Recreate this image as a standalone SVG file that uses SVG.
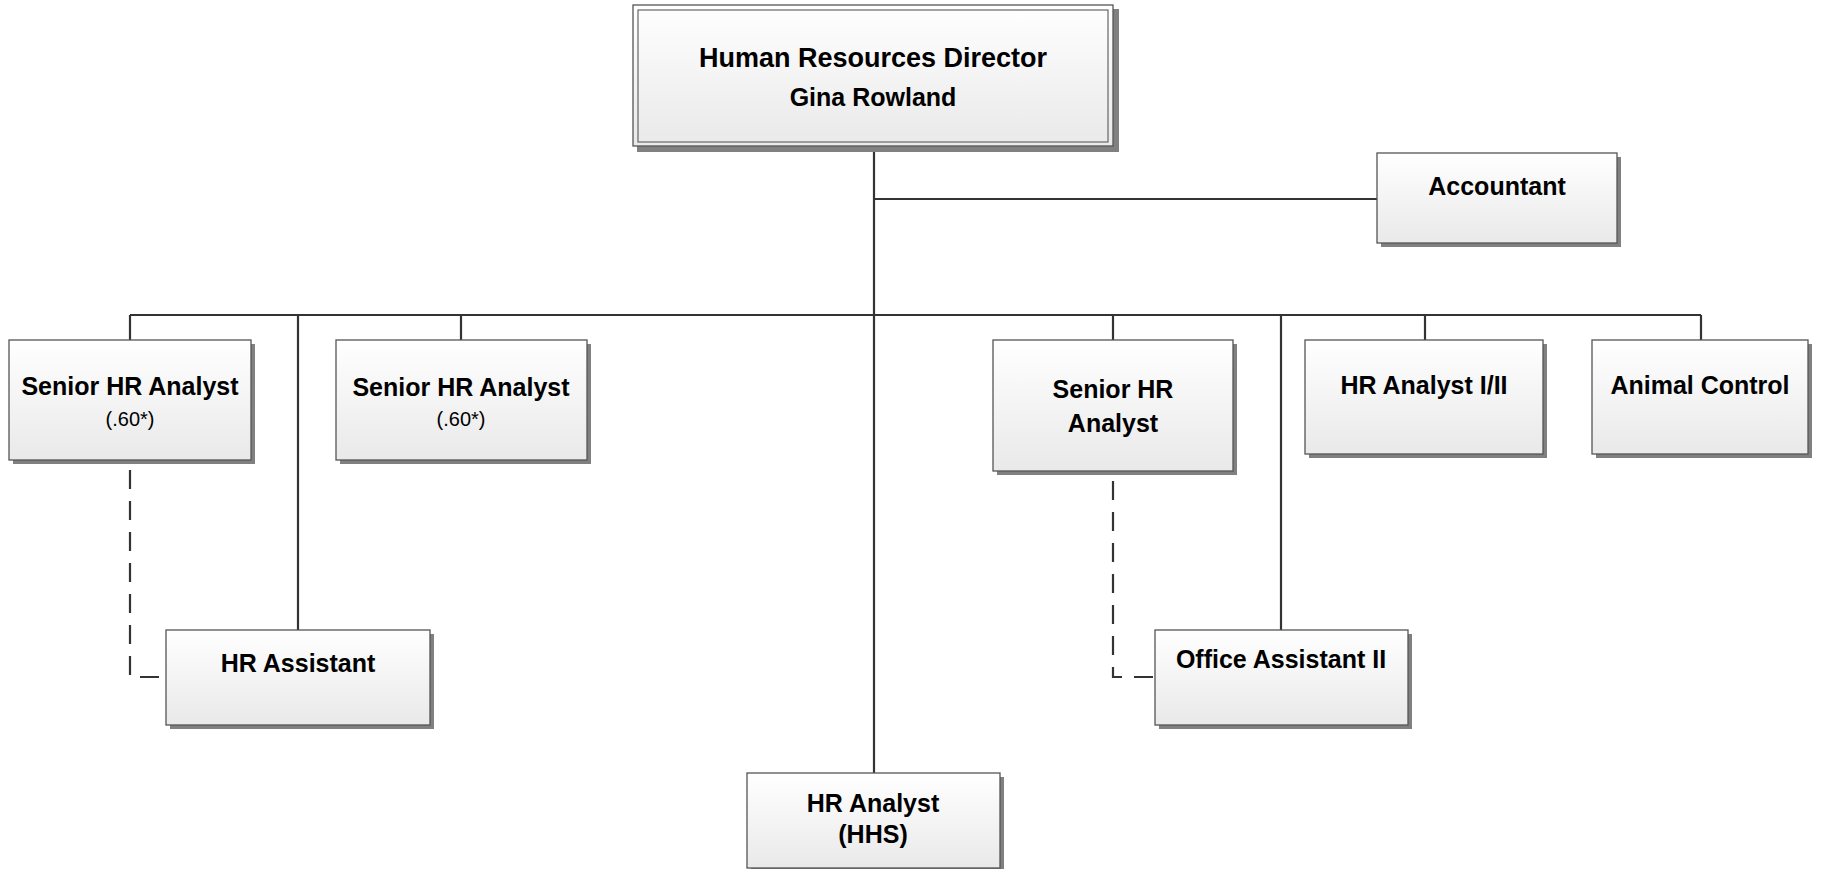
<svg xmlns="http://www.w3.org/2000/svg" width="1822" height="869" viewBox="0 0 1822 869">
<defs>
<linearGradient id="g" x1="0" y1="0" x2="0" y2="1">
<stop offset="0" stop-color="#ffffff"/>
<stop offset="1" stop-color="#e9e9e9"/>
</linearGradient>
<filter id="blur" x="-5%" y="-5%" width="110%" height="110%"><feGaussianBlur stdDeviation="0.6"/></filter>
<style>
.sh{fill:#808080;filter:url(#blur)}
.bx{fill:url(#g);stroke:#555;stroke-width:1.3}
.in{fill:none;stroke:#666;stroke-width:1.2}
.t{font-family:"Liberation Sans",Arial,sans-serif;font-weight:bold;font-size:25px;fill:#000;text-anchor:middle}
.tt{font-size:27px}
.s{font-family:"Liberation Sans",Arial,sans-serif;font-size:20px;fill:#000;text-anchor:middle}
.ln{fill:none;stroke:#333;stroke-width:2.2}
.da{fill:none;stroke:#333;stroke-width:2.2;stroke-dasharray:19 12}
</style>
</defs>
<rect width="1822" height="869" fill="#fff"/>
<g id="connectors">
<path class="ln" d="M874 147V773"/>
<path class="ln" d="M874 199H1377"/>
<path class="ln" d="M130 315H1701"/>
<path class="ln" d="M130 315V340M461 315V340M1113 315V340M1425 315V340M1701 315V340"/>
<path class="ln" d="M298 315V630"/>
<path class="ln" d="M1281 315V630"/>
<path class="da" d="M130 470V677H166"/>
<path class="da" d="M1113 481V677H1155"/>
</g>
<g id="director">
<rect class="sh" x="637" y="9" width="482" height="143"/>
<rect class="bx" x="633" y="5" width="480" height="141"/>
<rect class="in" x="638" y="10" width="470" height="132"/>
<text class="t tt" x="873" y="67">Human Resources Director</text>
<text class="t" x="873" y="106">Gina Rowland</text>
</g>
<g id="accountant">
<rect class="sh" x="1381" y="157" width="240" height="90"/>
<rect class="bx" x="1377" y="153" width="240" height="90"/>
<text class="t" x="1497" y="195">Accountant</text>
</g>
<g id="senior1">
<rect class="sh" x="13" y="344" width="242" height="120"/>
<rect class="bx" x="9" y="340" width="242" height="120"/>
<text class="t" x="130" y="395">Senior HR Analyst</text>
<text class="s" x="130" y="426">(.60*)</text>
</g>
<g id="senior2">
<rect class="sh" x="340" y="344" width="251" height="120"/>
<rect class="bx" x="336" y="340" width="251" height="120"/>
<text class="t" x="461" y="396">Senior HR Analyst</text>
<text class="s" x="461" y="426">(.60*)</text>
</g>
<g id="senior3">
<rect class="sh" x="997" y="344" width="240" height="131"/>
<rect class="bx" x="993" y="340" width="240" height="131"/>
<text class="t" x="1113" y="398">Senior HR</text>
<text class="t" x="1113" y="432">Analyst</text>
</g>
<g id="analyst12">
<rect class="sh" x="1309" y="344" width="238" height="114"/>
<rect class="bx" x="1305" y="340" width="238" height="114"/>
<text class="t" x="1424" y="394">HR Analyst I/II</text>
</g>
<g id="animal">
<rect class="sh" x="1596" y="344" width="216" height="114"/>
<rect class="bx" x="1592" y="340" width="216" height="114"/>
<text class="t" x="1700" y="394">Animal Control</text>
</g>
<g id="hrassistant">
<rect class="sh" x="170" y="634" width="264" height="95"/>
<rect class="bx" x="166" y="630" width="264" height="95"/>
<text class="t" x="298" y="672">HR Assistant</text>
</g>
<g id="officeassistant">
<rect class="sh" x="1159" y="634" width="253" height="95"/>
<rect class="bx" x="1155" y="630" width="253" height="95"/>
<text class="t" x="1281" y="668">Office Assistant II</text>
</g>
<g id="hhs">
<rect class="sh" x="751" y="777" width="253" height="95"/>
<rect class="bx" x="747" y="773" width="253" height="95"/>
<text class="t" x="873" y="812">HR Analyst</text>
<text class="t" x="873" y="843">(HHS)</text>
</g>
</svg>
